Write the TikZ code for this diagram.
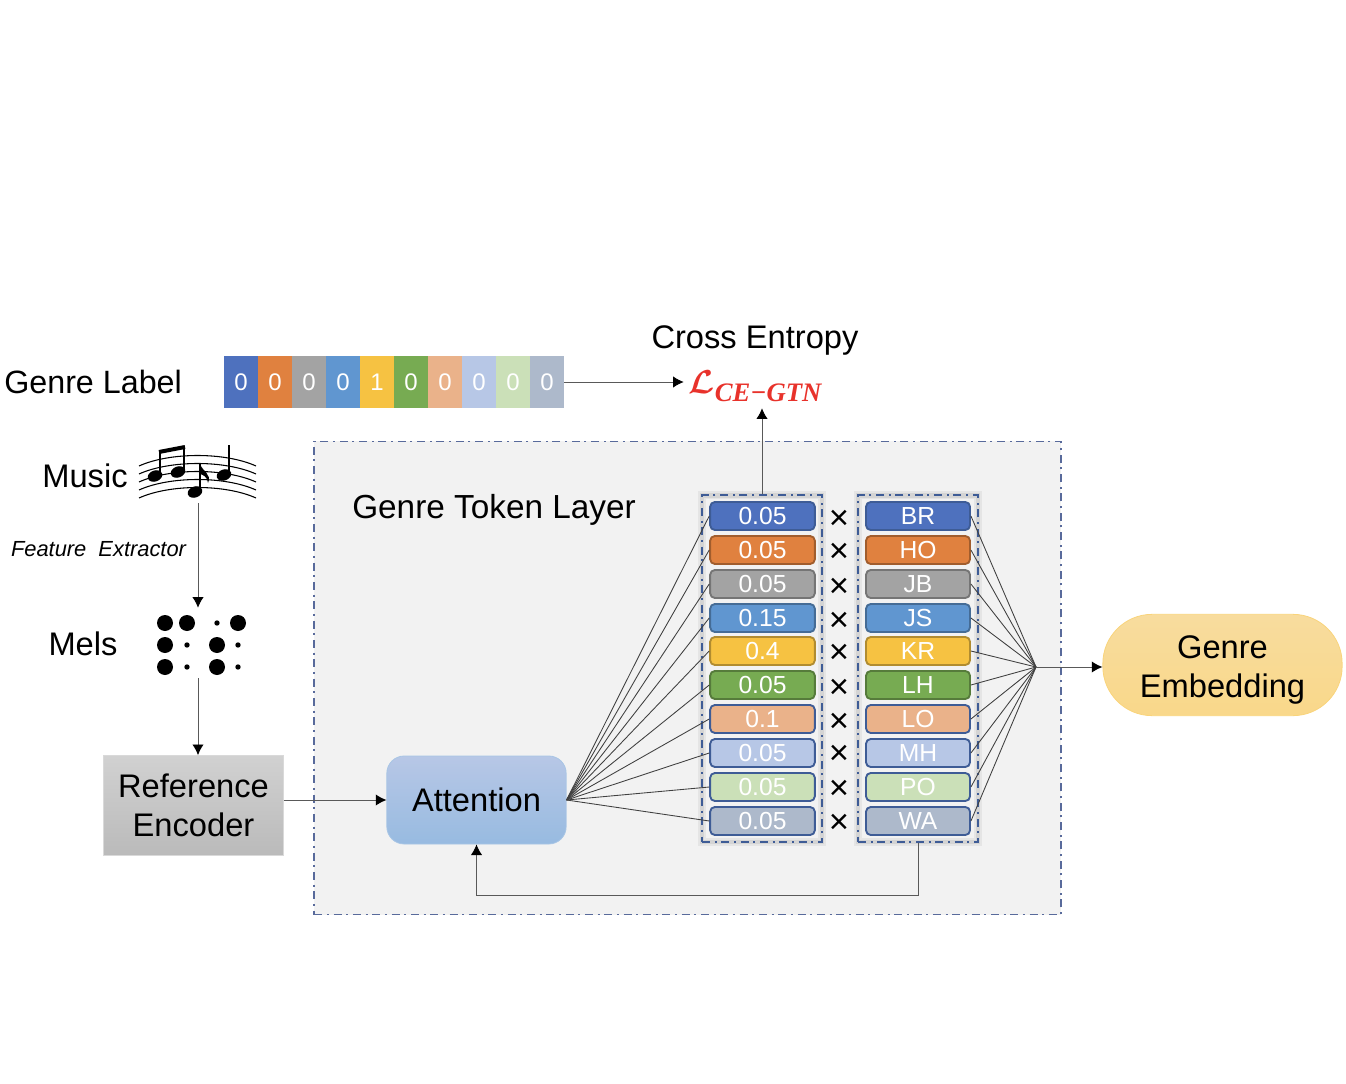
\documentclass[tikz,border=0pt]{standalone}
\usepackage{amsmath,bm}
\usepackage{fontspec}
\setmainfont{Liberation Sans}
\newfontfamily\lossfont{Liberation Serif}
\usetikzlibrary{arrows.meta}

\definecolor{gbr}{RGB}{78,113,190}
\definecolor{gho}{RGB}{224,129,63}
\definecolor{gjb}{RGB}{163,163,163}
\definecolor{gjs}{RGB}{96,150,208}
\definecolor{gkr}{RGB}{246,194,66}
\definecolor{glh}{RGB}{119,171,82}
\definecolor{glo}{RGB}{234,178,138}
\definecolor{gmh}{RGB}{183,199,230}
\definecolor{gpo}{RGB}{203,224,184}
\definecolor{gwa}{RGB}{173,185,203}
\definecolor{tokblue}{RGB}{62,92,150}
\definecolor{frameblue}{RGB}{88,106,155}
\definecolor{lossred}{RGB}{232,50,43}
\definecolor{embtop}{RGB}{248,220,158}
\definecolor{embbot}{RGB}{249,216,138}

\tikzset{
  txt/.style={inner sep=0pt,font=\fontsize{24.5}{29}\selectfont,align=center},
  tokbox/.style={rounded corners=3.5pt,line width=1.4pt,minimum height=21pt,inner sep=0pt,
    text=white,font=\fontsize{18.5}{22}\selectfont},
  cellbox/.style={minimum width=25.5pt,minimum height=39pt,inner sep=0pt,text=white,
    font=\fontsize{18}{22}\selectfont},
  colframe/.style={minimum width=90pt,minimum height=260pt,inner sep=0pt,draw=tokblue,line width=1.3pt,
    dash pattern=on 6pt off 3.5pt on 1.5pt off 3.5pt,
    preaction={draw=black,draw opacity=.05,line width=6pt,solid},
    preaction={draw=black,draw opacity=.07,line width=3.5pt,solid}},
  conn/.style={draw=black!65,line width=.7pt,-{Latex[length=8pt,width=8.5pt,black]}},
  fan/.style={draw=black!75,line width=.65pt},
}

\begin{document}
\begin{tikzpicture}[x=0.75pt,y=0.75pt,yscale=-1,xscale=1]
\useasboundingbox (0,0) rectangle (1346,1084);

%Genre token layer
\node (gtl) at (687.5,678) [minimum width=560pt,minimum height=355pt,inner sep=0pt,fill=black!5,draw=frameblue,line width=1.1pt,
  dash pattern=on 6pt off 3.5pt on 1.5pt off 3.5pt] {};
\node[txt,anchor=west,font=\fontsize{25}{29}\selectfont] (gtltxt) at (352,510) {Genre Token Layer};

%Token columns
\node[colframe] (valcol) at (762,668.5) {};
\node[colframe] (labcol) at (918,668.5) {};

\foreach \y/\v/\l/\c/\b [count=\i] in {
  516/0.05/BR/gbr/tokblue,
  550/0.05/HO/gho/gho!72!black,
  584/0.05/JB/gjb/gjb!72!black,
  618/0.15/JS/gjs/gjs!72!black,
  651/0.4/KR/gkr/gkr!72!black,
  685/0.05/LH/glh/glh!72!black,
  719/0.1/LO/glo/tokblue,
  753/0.05/MH/gmh/tokblue,
  787/0.05/PO/gpo/tokblue,
  821/0.05/WA/gwa/tokblue}{
  \node[tokbox,minimum width=78.5pt,fill=\c,draw=\b] (val\i) at (762.5,\y) {\v};
  \node[tokbox,minimum width=78pt,fill=\c,draw=\b] (lab\i) at (918,\y) {\l};
}
\foreach \y [count=\i] in {520,553,588,622,654,689,723,755,790,824}
  \node[inner sep=0pt,font=\fontsize{26}{26}\selectfont] (times\i) at (839,\y) {×};

%Genre label
\node[txt,anchor=west,font=\fontsize{24.2}{29}\selectfont] (gltxt) at (4,382) {Genre Label};
\foreach \c/\v [count=\i] in {gbr/0,gho/0,gjb/0,gjs/0,gkr/1,glh/0,glo/0,gmh/0,gpo/0,gwa/0}
  \node[cellbox,fill=\c] (cell\i) at (207+34*\i,382) {\v};

\node[txt] (cetxt) at (755,340) {Cross Entropy};
\node[inner sep=0pt,minimum width=106.5pt,minimum height=33pt,text=lossred] (loss) at (755,386)
  {{\fontsize{30}{30}\selectfont$\bm{\mathcal{L}}$}\raisebox{-6pt}{\lossfont\bfseries\itshape\fontsize{20}{20}\selectfont CE−GTN}};

%Music
\node[txt] (musictxt) at (85,476) {Music};
\node (music) at (198,473) [minimum width=88.5pt,minimum height=45pt,inner sep=0pt] {};
\foreach \d in {0,8,16,24,32}
  \draw[line width=.8pt] (139,466+\d) .. controls (170,452+\d) and (225,452+\d) .. (256,466+\d);
\fill[rotate around={-20:(155,476)}] (155,476) ellipse (7.5 and 5.5);
\fill[rotate around={-20:(178,472)}] (178,472) ellipse (7.5 and 5.5);
\fill[rotate around={-20:(195,492)}] (195,492) ellipse (7.5 and 5.5);
\fill[rotate around={-20:(224,475)}] (224,475) ellipse (7.5 and 5.5);
\draw[line width=1.5pt] (160,475) -- (160,452);
\draw[line width=1.5pt] (184,471) -- (184,447);
\draw[line width=3pt] (159,452) -- (185,447);
\draw[line width=1.5pt] (200,491) -- (200,464);
\fill (200,464) .. controls (203,472) and (212,474) .. (208,483) .. controls (207,476) and (203,475) .. (200,474) -- cycle;
\draw[line width=1.5pt] (229,474) -- (229,445);

\node[inner sep=0pt,font=\itshape\fontsize{16.4}{20}\selectfont] (fetxt) at (98.5,549) {Feature\ \ Extractor};

%Mels
\node[txt] (melstxt) at (83,644) {Mels};
\node (mels) at (198,643) [minimum width=70pt,minimum height=52.5pt,inner sep=0pt] {};
\foreach \x/\y/\r in {165/623/8,187/623/8,217/623/2.7,238/623/8,
  165/645/8,187/645/2.7,217/645/8,238/645/2.7,
  165/667/8,187/667/2.7,217/667/8,238/667/2.7}
  \fill (\x,\y) circle (\r);

%Boxes
\node (ref) at (193.5,805.5) [txt,minimum width=135pt,minimum height=75pt,draw=black!15,line width=.5pt,
  top color=black!18,bottom color=black!27] {Reference\\Encoder};
\node (att) at (476.5,800) [txt,minimum width=134.5pt,minimum height=66pt,rounded corners=13pt,draw=gjs!55,line width=.6pt,
  top color=gmh,bottom color=gjs!65] {Attention};
\node (emb) at (1222.5,665) [minimum width=179.5pt,minimum height=76pt,inner sep=0pt,rounded corners=37pt,draw=gkr!70,line width=.6pt,
  top color=embtop,bottom color=embbot] {};
\node[txt] (embtxt) at (1222.5,670) {Genre\\Embedding};

\coordinate (hub) at (1036,667);
\coordinate (fbk) at (918,895);

%Straight Lines
\foreach \i in {1,...,10}{
  \draw[fan] (att.east) -- (val\i.west);
  \draw[fan] (lab\i.east) -- (hub);
}
\draw[conn] (hub) -- (emb.west |- hub);
\draw[conn] (cell10.east) -- (loss.west |- cell10.east);
\draw[conn] (valcol.north) -- (valcol.north |- loss.south);
\draw[conn] (music.south) -- (music.south |- mels.north);
\draw[conn] (mels.south) -- (mels.south |- ref.north);
\draw[conn] (ref.east |- att.west) -- (att.west);
\draw[conn] (labcol.south) -- (fbk) -| (att.south);
\end{tikzpicture}
\end{document}
